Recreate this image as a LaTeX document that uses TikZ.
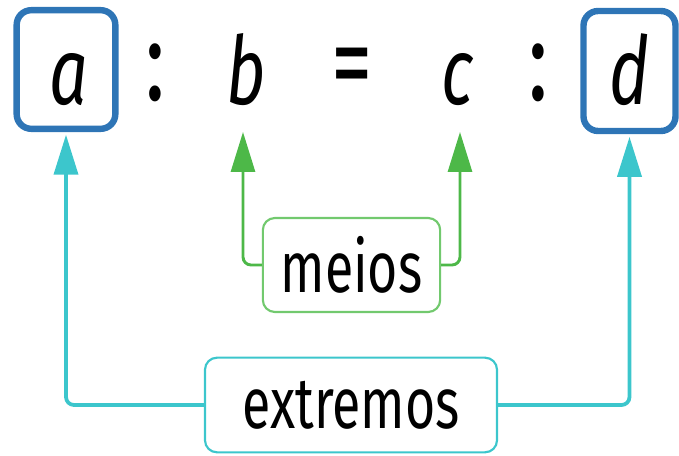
\documentclass[tikz,border=0pt]{standalone}
\usepackage{fontspec}
\setmainfont{Fira Sans}[FakeStretch=0.72]
\usetikzlibrary{arrows.meta,positioning}
\definecolor{pblue}{HTML}{2E75B6}
\definecolor{pgreen}{HTML}{4DB848}
\definecolor{pgreenl}{HTML}{72C96E}
\definecolor{pcyan}{HTML}{3CC6CC}
\tikzset{
  pletter/.style={anchor=base, inner sep=0pt, font=\fontsize{71}{80}\selectfont\itshape},
  psymb/.style={inner sep=0pt, font=\fontsize{86}{90}\selectfont},
  pbox/.style={draw=pblue, line width=4.8pt, rounded corners=11pt, inner sep=0pt},
  plabel/.style={draw, line width=1.6pt, rounded corners=9pt, inner sep=0pt, font=\fontsize{54}{60}\selectfont},
  garrow/.style={-{Triangle[length=30pt,width=18pt]}, pgreen, line width=2.2pt, rounded corners=6pt},
  carrow/.style={-{Triangle[length=30pt,width=18pt]}, pcyan, line width=2.8pt, rounded corners=6pt, shorten >=2pt}
}

\begin{document}
\begin{tikzpicture}[x=0.75pt,y=-0.75pt]
\useasboundingbox (0,0) rectangle (679,456);

% the proportion
\node[pbox, minimum width=74pt, minimum height=89pt] (boxa) at (66,69.5) {};
\node[pbox, minimum width=69pt, minimum height=90pt] (boxd) at (629.5,71) {};
\node[pletter] (la) at (69,105) {a};
\node[psymb] (cola) at (155,73) {:};
\node[pletter] (lb) at (246,105) {b};
\node[psymb] (eq) at (352,75) {=};
\node[pletter] (lc) at (458,105) {c};
\node[psymb] (colb) at (538,73) {:};
\node[pletter] (ld) at (630,105) {d};

% labels
\node[plabel, draw=pgreenl, minimum width=133pt, minimum height=70.5pt] (meios) at (351.5,265) {meios};
\node[plabel, draw=pcyan, minimum width=219pt, minimum height=71pt] (extremos) at (351,405) {extremos};

\coordinate (tipb) at (243,132);
\coordinate (tipc) at (460,132);

\draw[garrow] (meios.west) -| (tipb);
\draw[garrow] (meios.east) -| (tipc);
\draw[carrow] (extremos.west) -| (boxa.south);
\draw[carrow] (extremos.east) -| (boxd.south);
\end{tikzpicture}
\end{document}
